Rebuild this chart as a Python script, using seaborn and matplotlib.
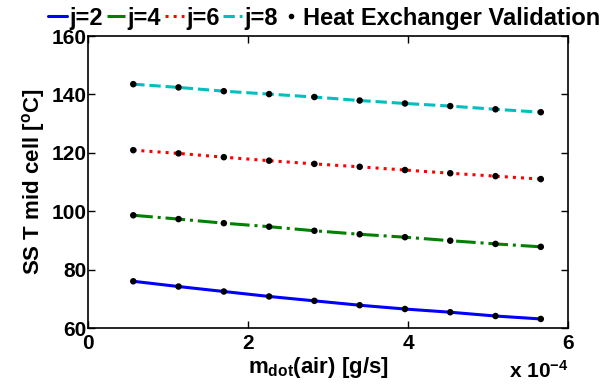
import numpy as np
import pandas as pd
import matplotlib
matplotlib.use("Agg")
import matplotlib.pyplot as plt
import seaborn as sns
from matplotlib.lines import Line2D

# air mass flow [g/s] (x 1e-4)
m_dot = [0.566, 1.132, 1.698, 2.264, 2.830, 3.396, 3.962, 4.528, 5.094, 5.660]
t_j2 = [76.0, 74.2, 72.5, 70.8, 69.3, 67.8, 66.5, 65.4, 64.1, 63.1]
t_j4 = [98.6, 97.3, 95.9, 94.7, 93.3, 92.1, 91.1, 89.9, 88.8, 87.8]
t_j6 = [120.9, 119.8, 118.5, 117.3, 116.2, 115.2, 114.1, 113.0, 112.0, 111.0]
t_j8 = [143.5, 142.4, 141.1, 140.1, 139.1, 137.9, 136.9, 136.0, 134.9, 133.9]
labels = ["j=2", "j=4", "j=6", "j=8"]

sns.set_style("ticks", {"axes.edgecolor": "black", "text.color": "black",
                        "axes.labelcolor": "black", "xtick.color": "black",
                        "ytick.color": "black"})
plt.rcParams['font.family'] = ['Liberation Sans', 'DejaVu Sans']
plt.rcParams['font.weight'] = 'bold'
plt.rcParams['mathtext.fontset'] = 'custom'
plt.rcParams['mathtext.rm'] = 'Liberation Sans:bold'
plt.rcParams['mathtext.it'] = 'Liberation Sans:bold'
plt.rcParams['mathtext.bf'] = 'Liberation Sans:bold'

fig = plt.figure(figsize=(6.08, 3.92), dpi=100)
ax = fig.add_axes([88/608, 64/392, 480/608, 292/392])

series = [t_j2, t_j4, t_j6, t_j8]
colors = ["#0000ff", "#008000", "#ff0000", "#00bfbf"]
styles = ["-", "-.", ":", "--"]
x = np.array(m_dot) * 1e-4
for vals, c, ls, lab in zip(series, colors, styles, labels):
    df = pd.DataFrame({"x": x, "y": vals})
    sns.lineplot(data=df, x="x", y="y", color=c, linestyle=ls, linewidth=2.2, ax=ax)
    sns.scatterplot(data=df, x="x", y="y", color="black", s=22, edgecolor="none", ax=ax, zorder=5)

ax.set_xlim(0, 6e-4)
ax.set_ylim(60, 160)
ax.set_xticks([0, 2e-4, 4e-4, 6e-4])
ax.set_xticklabels(["0", "2", "4", "6"])
ax.set_yticks([60, 80, 100, 120, 140, 160])
ax.tick_params(direction="in", top=True, right=True, labelsize=15, length=5, width=1)
ax.tick_params(axis="x", pad=4)
ax.tick_params(axis="y", pad=1)
for s in ax.spines.values():
    s.set_linewidth(1.2)

ax.set_xlabel(r"m$_{\mathrm{dot}}$(air) [g/s]", fontsize=16, fontweight="bold")
ax.xaxis.set_label_coords(0.48, -0.092, transform=ax.transAxes)
ax.xaxis.label.set_va("top")
ax.set_ylabel(r"SS T mid cell [$^{\mathrm{o}}$C]", fontsize=16, fontweight="bold", labelpad=3)
ax.text(1.0, -0.11, r"x 10$^{-4}$", transform=ax.transAxes, ha="right", va="top",
        fontsize=15, fontweight="bold")

handles = [Line2D([], [], color=c, linestyle=ls, linewidth=2.2) for c, ls in zip(colors, styles)]
handles.append(Line2D([], [], color="black", marker=".", linestyle="none", markersize=6))
fig.legend(handles, labels + ["Heat Exchanger Validation"], loc="upper center",
           bbox_to_anchor=(324/608, 1.025), ncol=5, frameon=False, fontsize=17,
           handlelength=0.8, handletextpad=0.1, columnspacing=0.15, borderpad=0.2)

fig.savefig("out.png", dpi=100)
